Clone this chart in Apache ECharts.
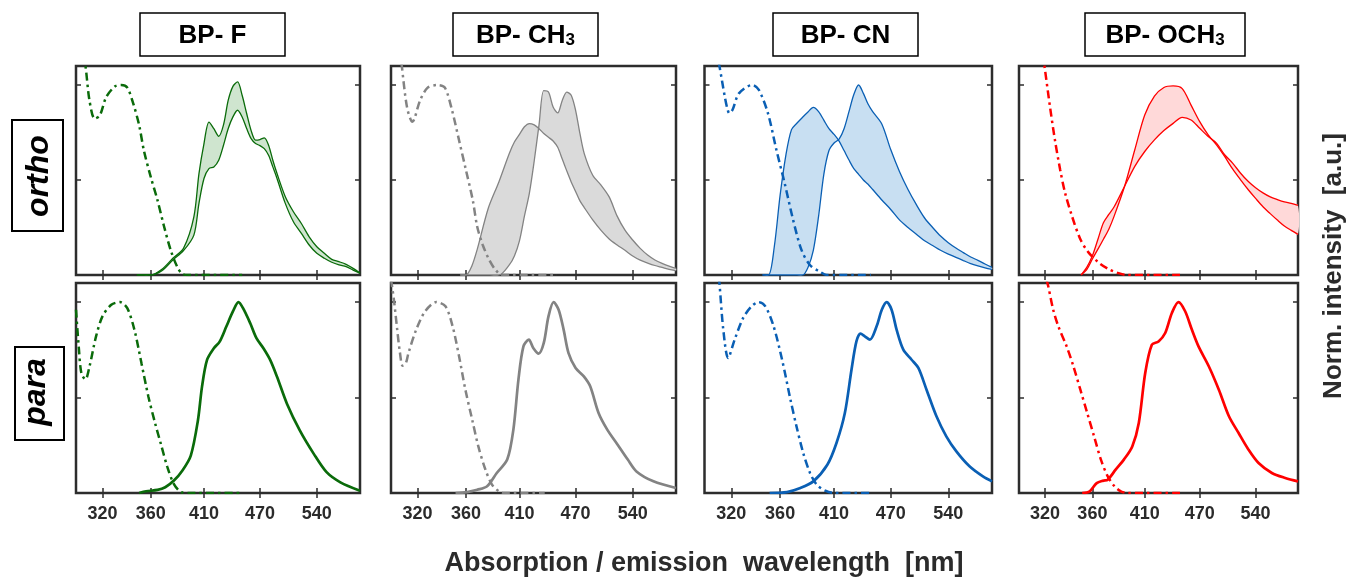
<!DOCTYPE html>
<html>
<head>
<meta charset="utf-8">
<script src="https://cdn.jsdelivr.net/npm/echarts@6/dist/echarts.min.js"></script>
<style>
html, body { margin: 0; padding: 0; background: #fff; }
#chart { width: 1353px; height: 581px; }
</style>
</head>
<body>
<div id="chart"></div>
<script>
// axis ticks
var xTicks = [320, 360, 410, 470, 540]
var yTicks = [0.5, 1.0]

// ---- BP-F ----
var fOrthoAbsX = [300, 303, 307, 310, 314, 318, 323, 330, 335, 340, 345, 350, 354, 360, 366, 372, 378, 384, 389, 395, 450]
var fOrthoAbsY = [1.45, 1.25, 1.1, 0.92, 0.823, 0.84, 0.937, 0.993, 1.0, 0.986, 0.902, 0.788, 0.657, 0.517, 0.394, 0.254, 0.131, 0.044, 0.005, 0, 0]
var fOrthoEmX = [348, 360, 370, 380, 390, 400, 405, 410, 415, 420, 425, 430, 435, 440, 445, 450, 455, 460, 465, 470, 475, 480, 485, 490, 500, 510, 520, 530, 540, 550, 560, 570, 580, 590, 600]
var fOrthoEmA = [0, 0, 0.03, 0.088, 0.14, 0.306, 0.534, 0.692, 0.805, 0.77, 0.73, 0.79, 0.92, 0.993, 1.016, 0.946, 0.85, 0.76, 0.71, 0.713, 0.722, 0.683, 0.604, 0.534, 0.412, 0.333, 0.271, 0.201, 0.149, 0.114, 0.082, 0.07, 0.056, 0.035, 0.01]
var fOrthoEmB = [0, 0, 0.023, 0.079, 0.128, 0.21, 0.377, 0.508, 0.56, 0.569, 0.604, 0.683, 0.771, 0.832, 0.867, 0.832, 0.771, 0.718, 0.692, 0.681, 0.665, 0.63, 0.569, 0.508, 0.377, 0.28, 0.219, 0.158, 0.114, 0.088, 0.067, 0.053, 0.044, 0.026, 0.01]
var fParaAbsX = [300, 302, 304, 307, 310, 315, 320, 327, 334, 340, 346, 352, 358, 364, 369, 375, 381, 388, 395, 450]
var fParaAbsY = [0.96, 0.767, 0.626, 0.595, 0.661, 0.819, 0.925, 0.986, 1.0, 0.968, 0.854, 0.679, 0.504, 0.363, 0.258, 0.135, 0.047, 0.004, 0, 0]
var fParaEmX = [350, 356, 366, 373, 381, 389, 397, 404, 408, 413, 420, 426, 433, 440, 446, 451, 459, 466, 474, 482, 490, 502, 518, 536, 553, 572, 600]
var fParaEmY = [0, 0.009, 0.016, 0.03, 0.065, 0.118, 0.196, 0.381, 0.556, 0.696, 0.758, 0.793, 0.872, 0.951, 1.0, 0.968, 0.889, 0.811, 0.758, 0.696, 0.609, 0.468, 0.328, 0.205, 0.109, 0.056, 0.012]

// ---- BP-CH3 ----
var meOrthoAbsX = [300, 304, 308, 312, 316, 322, 328, 336, 342, 348, 354, 360, 366, 370, 375, 381, 387, 393, 449]
var meOrthoAbsY = [1.6, 1.35, 1.1, 0.88, 0.806, 0.919, 0.986, 1.0, 0.986, 0.867, 0.709, 0.552, 0.394, 0.254, 0.158, 0.079, 0.026, 0, 0]
var meOrthoEmX = [355, 360, 365, 370, 380, 390, 400, 405, 410, 415, 420, 425, 430, 435, 440, 445, 450, 455, 460, 465, 470, 475, 480, 490, 500, 510, 520, 530, 540, 550, 560, 570, 580, 590, 600]
var meOrthoEmA = [0, 0, 0.045, 0.135, 0.35, 0.49, 0.64, 0.7, 0.74, 0.78, 0.797, 0.79, 0.77, 0.745, 0.725, 0.705, 0.672, 0.61, 0.548, 0.49, 0.44, 0.39, 0.355, 0.29, 0.235, 0.19, 0.158, 0.13, 0.1, 0.078, 0.063, 0.05, 0.04, 0.03, 0.023]
var meOrthoEmB = [0, 0, 0, 0, 0, 0, 0.053, 0.1, 0.18, 0.31, 0.43, 0.6, 0.79, 0.97, 0.963, 0.884, 0.853, 0.919, 0.963, 0.946, 0.867, 0.744, 0.639, 0.525, 0.473, 0.411, 0.31, 0.236, 0.184, 0.14, 0.105, 0.079, 0.061, 0.047, 0.035]
var meParaAbsX = [300, 302, 304.5, 306.5, 308.6, 311, 313, 319, 326, 335, 342.5, 348.5, 354, 359.5, 365.5, 371, 377.5, 383.5, 390, 395, 436]
var meParaAbsY = [1.12, 1.02, 0.86, 0.74, 0.667, 0.68, 0.733, 0.856, 0.952, 1.0, 0.978, 0.873, 0.716, 0.541, 0.384, 0.244, 0.122, 0.044, 0.009, 0, 0]
var meParaEmX = [351, 361, 370, 379, 388, 398, 404, 409, 414, 419.5, 424, 429.6, 435, 440, 445.5, 451, 456.5, 462, 470, 479.5, 487, 497, 507.6, 520.6, 533.6, 545, 568, 600]
var meParaEmY = [0, 0.005, 0.017, 0.035, 0.105, 0.175, 0.332, 0.594, 0.768, 0.803, 0.76, 0.73, 0.786, 0.925, 1.0, 0.96, 0.856, 0.733, 0.655, 0.611, 0.559, 0.419, 0.332, 0.253, 0.175, 0.113, 0.061, 0.026]

// ---- BP-CN ----
var cnOrthoAbsX = [300, 305, 311, 313, 315, 317, 318.5, 321, 326, 336.5, 342, 349.6, 356.8, 364, 371.5, 379, 386.8, 396, 403, 448]
var cnOrthoAbsY = [1.6, 1.35, 1.1, 1.02, 0.94, 0.875, 0.851, 0.87, 0.956, 1.0, 0.974, 0.851, 0.658, 0.482, 0.289, 0.132, 0.053, 0.018, 0, 0]
var cnOrthoEmX = [345, 350, 355, 360, 365, 370, 375, 380, 385, 390, 395, 400, 405, 410, 415, 420, 425, 430, 435, 440, 445, 450, 460, 470, 480, 490, 500, 510, 520, 530, 540, 550, 560, 570, 580, 590, 600]
var cnOrthoEmA = [0, 0, 0.15, 0.42, 0.63, 0.765, 0.8, 0.83, 0.858, 0.882, 0.86, 0.815, 0.77, 0.74, 0.705, 0.655, 0.605, 0.56, 0.53, 0.5, 0.478, 0.45, 0.395, 0.345, 0.29, 0.25, 0.215, 0.18, 0.155, 0.13, 0.11, 0.093, 0.076, 0.06, 0.048, 0.038, 0.03]
var cnOrthoEmB = [0, 0, 0, 0, 0, 0, 0, 0, 0.04, 0.13, 0.31, 0.53, 0.655, 0.695, 0.715, 0.77, 0.86, 0.95, 1.0, 0.956, 0.9, 0.86, 0.795, 0.66, 0.545, 0.45, 0.37, 0.3, 0.25, 0.205, 0.17, 0.142, 0.118, 0.095, 0.077, 0.058, 0.04]
var cnParaAbsX = [300, 305, 308, 311, 313.9, 317.6, 322.6, 329.3, 336.1, 341.7, 347.4, 354.4, 361.7, 369.1, 374.5, 380.6, 386.9, 393.2, 401.4, 410, 448]
var cnParaAbsY = [2.0, 1.5, 1.32, 1.1, 0.856, 0.707, 0.803, 0.917, 0.978, 1.0, 0.978, 0.873, 0.698, 0.489, 0.349, 0.21, 0.105, 0.044, 0.012, 0, 0]
var cnParaEmX = [351, 366, 378, 390, 403.4, 412.4, 420.8, 427.6, 432.7, 437, 441.5, 447, 454.3, 460, 465.5, 471, 476.7, 484.5, 494.3, 502.4, 512.4, 524.8, 537.4, 550.6, 568.3, 587, 600]
var cnParaEmY = [0, 0.005, 0.026, 0.061, 0.148, 0.262, 0.419, 0.646, 0.794, 0.835, 0.821, 0.803, 0.873, 0.96, 1.0, 0.96, 0.856, 0.751, 0.698, 0.655, 0.541, 0.402, 0.297, 0.218, 0.14, 0.087, 0.061]

// ---- BP-OCH3 ----
var omOrthoAbsX = [310, 315, 319.6, 324, 328, 332.3, 336.4, 342.2, 349.4, 356.5, 365.5, 374.8, 384, 392, 448]
var omOrthoAbsY = [1.55, 1.32, 1.1, 0.886, 0.711, 0.554, 0.432, 0.31, 0.188, 0.119, 0.066, 0.031, 0.01, 0, 0]
var omOrthoEmX = [350, 355, 360, 365, 370, 375, 380, 390, 400, 410, 420, 430, 440, 450, 460, 470, 480, 490, 500, 510, 520, 530, 540, 550, 560, 570, 580, 590, 600]
var omOrthoEmA = [0, 0.028, 0.084, 0.136, 0.188, 0.241, 0.31, 0.467, 0.659, 0.842, 0.941, 0.987, 0.995, 0.981, 0.894, 0.807, 0.737, 0.685, 0.624, 0.558, 0.502, 0.45, 0.403, 0.359, 0.323, 0.289, 0.258, 0.235, 0.214]
var omOrthoEmB = [0, 0.04, 0.101, 0.188, 0.275, 0.319, 0.359, 0.467, 0.572, 0.65, 0.711, 0.76, 0.798, 0.83, 0.816, 0.772, 0.729, 0.694, 0.633, 0.589, 0.537, 0.493, 0.459, 0.432, 0.411, 0.397, 0.385, 0.377, 0.366]
var omParaAbsX = [312, 318, 322.6, 326.6, 330.8, 337.7, 343.4, 349.4, 355.4, 361.5, 367.7, 374, 380.4, 386.4, 393, 448]
var omParaAbsY = [1.4, 1.2, 1.083, 0.96, 0.873, 0.768, 0.664, 0.541, 0.419, 0.297, 0.175, 0.087, 0.035, 0.009, 0, 0]
var omParaEmX = [351, 357.6, 363.9, 370, 374, 381.4, 389.3, 397.5, 404, 410.5, 417.3, 424.3, 431.4, 438.6, 445.8, 453.3, 460.9, 468.6, 480.7, 492.9, 505.4, 517.7, 530.6, 544, 562.3, 581.3, 600]
var omParaEmY = [0, 0.009, 0.052, 0.065, 0.07, 0.122, 0.175, 0.244, 0.367, 0.629, 0.777, 0.794, 0.838, 0.943, 1.0, 0.952, 0.856, 0.768, 0.664, 0.541, 0.402, 0.314, 0.227, 0.157, 0.105, 0.079, 0.061]

var compounds = [
  { title: '{a|BP- F}', line: '#0a6b0a', fill: '#cfe5cf',
    oAbs: [fOrthoAbsX, fOrthoAbsY], oEm: [fOrthoEmX, fOrthoEmA, fOrthoEmB],
    pAbs: [fParaAbsX, fParaAbsY], pEm: [fParaEmX, fParaEmY] },
  { title: '{a|BP- CH}{s|3}', line: '#838383', fill: '#dadada',
    oAbs: [meOrthoAbsX, meOrthoAbsY], oEm: [meOrthoEmX, meOrthoEmA, meOrthoEmB],
    pAbs: [meParaAbsX, meParaAbsY], pEm: [meParaEmX, meParaEmY] },
  { title: '{a|BP- CN}', line: '#0a5fb4', fill: '#c8dff2',
    oAbs: [cnOrthoAbsX, cnOrthoAbsY], oEm: [cnOrthoEmX, cnOrthoEmA, cnOrthoEmB],
    pAbs: [cnParaAbsX, cnParaAbsY], pEm: [cnParaEmX, cnParaEmY] },
  { title: '{a|BP- OCH}{s|3}', line: '#ff0000', fill: '#ffd9d9',
    oAbs: [omOrthoAbsX, omOrthoAbsY], oEm: [omOrthoEmX, omOrthoEmA, omOrthoEmB],
    pAbs: [omParaAbsX, omParaAbsY], pEm: [omParaEmX, omParaEmY] }
]

// layout
var colLeft = [76, 391, 704.5, 1019]
var colWidth = [284, 285, 287.5, 279]
var rowTop = [66, 283]
var rowHeight = [209, 210]
var titleBox = [[140, 145], [453, 145], [773, 145], [1085, 160]]
var SMOOTH = 0.3
var FONT = '"Liberation Sans", Arial, sans-serif'

function pairs(xs, ys) {
  return xs.map(function (x, i) { return [x, ys[i]] })
}

var grids = []
var xAxes = []
var yAxes = []
var series = []

function addPanel(row, col) {
  var g = grids.length
  var c = compounds[col]
  grids.push({
    left: colLeft[col], top: rowTop[row], width: colWidth[col], height: rowHeight[row],
    show: true, borderColor: '#2d2d2d', borderWidth: 2.5
  })
  ;['bottom', 'top'].forEach(function (pos) {
    xAxes.push({
      type: 'log', logBase: 10, gridIndex: g, min: 300, max: 600, position: pos,
      axisLine: { show: false },
      splitLine: { show: false },
      axisTick: { inside: true, length: 5, customValues: xTicks, lineStyle: { color: '#2d2d2d', width: 1.5 } },
      axisLabel: {
        show: row === 1 && pos === 'bottom', customValues: xTicks, margin: 12,
        fontSize: 18, fontWeight: 'bold', color: '#2b2b2b', fontFamily: FONT
      }
    })
  })
  ;['left', 'right'].forEach(function (pos) {
    yAxes.push({
      type: 'value', gridIndex: g, min: 0, max: 1.1, position: pos,
      axisLine: { show: false },
      splitLine: { show: false },
      axisTick: { inside: true, length: 5, customValues: yTicks, lineStyle: { color: '#2d2d2d', width: 1.5 } },
      axisLabel: { show: false }
    })
  })
  var xi = 2 * g
  var yi = 2 * g
  var abs = row === 0 ? c.oAbs : c.pAbs
  if (row === 0) {
    var lam = c.oEm[0], ea = c.oEm[1], eb = c.oEm[2]
    // filled band between the two ortho emission curves
    series.push({
      type: 'custom', xAxisIndex: xi, yAxisIndex: yi, z: 1, silent: true,
      data: [[450, 0.5]],
      renderItem: function (params, api) {
        var pts = []
        for (var i = 0; i < lam.length; i++) pts.push(api.coord([lam[i], ea[i]]))
        for (var j = lam.length - 1; j >= 0; j--) pts.push(api.coord([lam[j], eb[j]]))
        return { type: 'polygon', shape: { points: pts, smooth: SMOOTH }, style: { fill: c.fill, stroke: null } }
      }
    })
    ;[ea, eb].forEach(function (ys) {
      series.push({
        type: 'line', xAxisIndex: xi, yAxisIndex: yi, z: 3, symbol: 'none', smooth: SMOOTH,
        data: pairs(lam, ys),
        lineStyle: { color: c.line, width: 1.3 }
      })
    })
  } else {
    series.push({
      type: 'line', xAxisIndex: xi, yAxisIndex: yi, z: 3, symbol: 'none', smooth: SMOOTH,
      data: pairs(c.pEm[0], c.pEm[1]),
      lineStyle: { color: c.line, width: 2.7 }
    })
  }
  series.push({
    type: 'line', xAxisIndex: xi, yAxisIndex: yi, z: 4, symbol: 'none', smooth: SMOOTH,
    data: pairs(abs[0], abs[1]),
    lineStyle: { color: c.line, width: 2.5, type: [8, 4, 2.5, 4] }
  })
}

for (var r = 0; r < 2; r++) {
  for (var k = 0; k < 4; k++) addPanel(r, k)
}

var graphic = []
compounds.forEach(function (c, i) {
  var b = titleBox[i]
  graphic.push({
    type: 'rect', shape: { x: b[0], y: 13, width: b[1], height: 43 },
    style: { fill: '#fff', stroke: '#000', lineWidth: 1.5 }
  })
  graphic.push({
    type: 'text', x: b[0] + b[1] / 2, y: 35,
    style: {
      text: c.title, align: 'center', verticalAlign: 'middle', fill: '#000',
      rich: {
        a: { font: 'bold 26px ' + FONT, fill: '#000', lineHeight: 28, verticalAlign: 'bottom' },
        s: { font: 'bold 17px ' + FONT, fill: '#000', lineHeight: 19, verticalAlign: 'bottom' }
      }
    }
  })
})
// row labels
graphic.push({ type: 'rect', shape: { x: 12, y: 120, width: 51, height: 111 }, style: { fill: '#fff', stroke: '#000', lineWidth: 2 } })
graphic.push({
  type: 'text', x: 39, y: 176, rotation: Math.PI / 2,
  style: { text: 'ortho', font: 'italic bold 32px ' + FONT, fill: '#000', align: 'center', verticalAlign: 'middle' }
})
graphic.push({ type: 'rect', shape: { x: 15, y: 347, width: 49, height: 93 }, style: { fill: '#fff', stroke: '#000', lineWidth: 2 } })
graphic.push({
  type: 'text', x: 36, y: 392, rotation: Math.PI / 2,
  style: { text: 'para', font: 'italic bold 32px ' + FONT, fill: '#000', align: 'center', verticalAlign: 'middle' }
})
// axis titles
graphic.push({
  type: 'text', x: 704, y: 564,
  style: { text: 'Absorption / emission  wavelength  [nm]', font: 'bold 27px ' + FONT, fill: '#2b2b2b', align: 'center', verticalAlign: 'middle' }
})
graphic.push({
  type: 'text', x: 1334, y: 266, rotation: Math.PI / 2,
  style: { text: 'Norm. intensity  [a.u.]', font: 'bold 26px ' + FONT, fill: '#2b2b2b', align: 'center', verticalAlign: 'middle' }
})

var chart = echarts.init(document.getElementById('chart'))
chart.setOption({
  animation: false,
  backgroundColor: '#fff',
  grid: grids,
  xAxis: xAxes,
  yAxis: yAxes,
  series: series,
  graphic: graphic
})
</script>
</body>
</html>
